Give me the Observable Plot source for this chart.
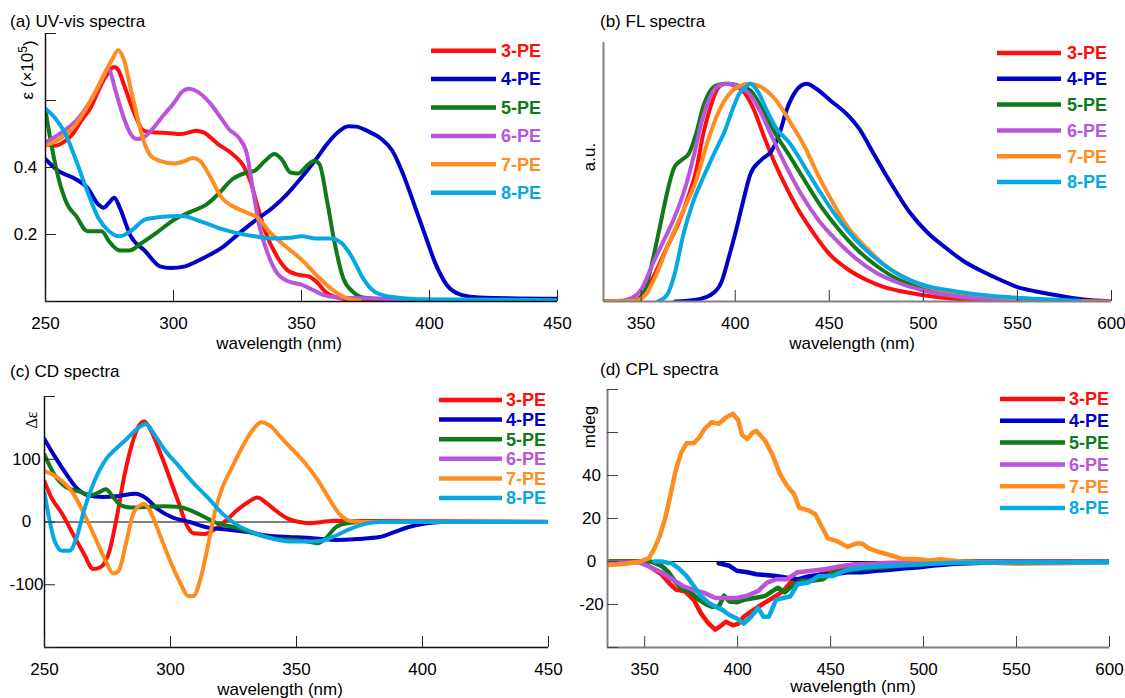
<!DOCTYPE html>
<html><head><meta charset="utf-8">
<script src="https://cdn.jsdelivr.net/npm/d3@7"></script>
<script src="https://cdn.jsdelivr.net/npm/@observablehq/plot@0.6"></script>
<style>
body{margin:0;background:#fff;}
#root{position:relative;width:1125px;height:698px;overflow:hidden;background:#fff;font-family:"Liberation Sans",Arial,sans-serif;}
#root svg{position:absolute;}
</style></head>
<body><div id="root"></div>
<script>
// ---------- series / style ----------
const series = ["3-PE","4-PE","5-PE","6-PE","7-PE","8-PE"];
const colors = ["#ff0d0d","#0000c8","#107a18","#b955da","#ff8c1f","#06a8e4"];

// ---------- ticks ----------
const uvXTicks = [250,300,350,400,450];
const uvYTicks = [0,0.2,0.4,0.6,0.8];
const uvYLabels = [0.2,0.4];
const flXTicks = [350,400,450,500,550,600];
const cdXTicks = [250,300,350,400,450];
const cdYTicks = [-200,-100,0,100,200];
const cdYLabels = [-100,0,100];
const cplXTicks = [350,400,450,500,550,600];
const cplYTicks = [-40,-20,0,20,40,60,80];
const cplYLabels = [-20,0,20,40];

// ---------- (a) UV-vis: [wavelength nm, epsilon x1e5] ----------
const uv3 = [[250,0.47],[253.5,0.465],[257,0.475],[260.6,0.50],[264,0.54],[267.7,0.58],[271,0.635],[273.4,0.67],[276.7,0.70],[278.5,0.69],[280.5,0.65],[284.8,0.56],[288.3,0.51],[291.8,0.505],[297.5,0.503],[303,0.50],[309,0.51],[311.7,0.505],[317.4,0.47],[323,0.44],[327.3,0.405],[330,0.36],[333,0.28],[335.8,0.21],[340,0.14],[344.3,0.095],[348.6,0.08],[352.8,0.075],[355.7,0.06],[360,0.025],[367,0.007],[374,0.002],[400,0.001],[450,0.001]];
const uv4 = [[250,0.425],[255,0.39],[260.6,0.37],[266.3,0.34],[270.6,0.29],[272.7,0.28],[274.8,0.295],[276.9,0.31],[279,0.28],[283.3,0.195],[289,0.15],[294.7,0.105],[298.9,0.10],[304.6,0.105],[311.7,0.13],[318.8,0.16],[325.9,0.205],[331.6,0.24],[338.7,0.28],[344.3,0.32],[350,0.37],[355.7,0.425],[360,0.47],[364.2,0.505],[368.4,0.523],[371.3,0.522],[375.5,0.51],[381.2,0.485],[385.5,0.45],[389.7,0.38],[394,0.29],[398.2,0.2],[402.5,0.11],[406.7,0.05],[412.4,0.02],[419.5,0.012],[450,0.008]];
const uv5 = [[250,0.57],[252,0.48],[255,0.37],[258.5,0.29],[262,0.255],[266.3,0.21],[269,0.21],[272,0.21],[274.8,0.18],[279,0.152],[282.6,0.152],[287.6,0.175],[293.3,0.205],[300.4,0.245],[307.4,0.27],[313,0.29],[317.4,0.32],[323,0.365],[328.7,0.385],[331.6,0.39],[335.8,0.42],[339.4,0.44],[342.2,0.425],[345.7,0.385],[348.6,0.382],[352.1,0.405],[355,0.42],[357,0.41],[360,0.30],[362.8,0.18],[366.3,0.07],[369.9,0.03],[374,0.012],[388,0.005],[450,0.002]];
const uv6 = [[250,0.475],[256.4,0.505],[262,0.54],[267.7,0.60],[272,0.66],[274.4,0.695],[277.7,0.62],[280.5,0.55],[283.3,0.50],[285.5,0.485],[288.3,0.49],[291.8,0.515],[296,0.555],[300.4,0.595],[303.2,0.625],[306,0.635],[309.6,0.625],[314.5,0.59],[318.8,0.545],[321.6,0.515],[325.9,0.485],[328.7,0.44],[330.9,0.34],[333.7,0.22],[336.5,0.15],[340,0.09],[344.3,0.062],[350,0.05],[354.3,0.035],[358.5,0.02],[364.2,0.012],[374,0.01],[382.6,0.008],[394,0.002]];
const uv7 = [[250,0.465],[256.4,0.49],[262,0.53],[267.7,0.60],[273.4,0.685],[276.2,0.725],[278.4,0.75],[280.5,0.725],[283.3,0.635],[286.2,0.54],[288.3,0.48],[291.1,0.435],[294.7,0.42],[300.4,0.412],[304.6,0.42],[307.4,0.428],[310.3,0.42],[314.5,0.37],[318.8,0.31],[323,0.285],[328.7,0.265],[333,0.25],[337.2,0.21],[342.9,0.17],[350,0.125],[355.7,0.08],[361.3,0.04],[367,0.012],[372.7,0.002]];
const uv8 = [[250,0.575],[253.5,0.55],[257.8,0.50],[262,0.42],[266.3,0.33],[270.6,0.25],[274.8,0.21],[279,0.195],[283.3,0.21],[289,0.245],[294.7,0.252],[303.2,0.255],[310.3,0.24],[317.4,0.22],[324.5,0.205],[331.6,0.195],[338.7,0.188],[345.7,0.19],[350,0.195],[355.7,0.188],[361.3,0.188],[365.6,0.175],[369.9,0.13],[374,0.07],[378.4,0.03],[384,0.015],[395.4,0.007],[450,0.004]];

// ---------- (b) FL: [wavelength nm, normalised intensity] ----------
const fl3 = [[330,0],[346.5,0.005],[352.3,0.046],[358,0.14],[363.8,0.25],[369.6,0.355],[375.4,0.49],[379.2,0.60],[383,0.77],[386.9,0.895],[390.8,0.98],[394.6,1.0],[400.4,0.99],[405.2,0.957],[410,0.88],[414.8,0.77],[419.6,0.665],[425.4,0.555],[433,0.43],[440.8,0.325],[450.4,0.215],[460,0.147],[469.6,0.10],[479.2,0.066],[488.8,0.046],[498.5,0.031],[517.7,0.012],[536.9,0.003],[556,0]];
const fl4 = [[368,0],[379.2,0.008],[386.9,0.03],[392.7,0.09],[396.5,0.2],[400.4,0.325],[404.2,0.46],[408.1,0.586],[413.8,0.65],[419.6,0.695],[423.5,0.77],[427.3,0.88],[432.1,0.965],[437.9,1.0],[442.7,0.98],[450.4,0.925],[460,0.855],[465.8,0.795],[473.5,0.68],[483,0.54],[492.7,0.41],[502.3,0.316],[511.9,0.247],[521.5,0.185],[531.2,0.139],[540.8,0.10],[550.4,0.065],[560,0.046],[571.5,0.028],[583,0.012],[594.6,0.003],[600,0]];
const fl5 = [[330,0],[346.5,0.003],[352.3,0.06],[356,0.185],[361,0.386],[363.8,0.50],[367.7,0.617],[371.5,0.65],[375.4,0.68],[379.2,0.77],[383,0.895],[386.9,0.97],[390.8,0.995],[396.5,1.0],[402.3,0.99],[408,0.97],[413.8,0.895],[421.5,0.77],[429.2,0.665],[437,0.555],[444.6,0.45],[454.2,0.34],[463.8,0.247],[475.4,0.162],[487,0.10],[498.5,0.065],[517.7,0.031],[537,0.012],[556,0.005],[575,0.002],[590,0]];
const fl6 = [[335,0],[338.8,0.003],[344.6,0.015],[350.4,0.06],[356,0.17],[362,0.28],[367.7,0.386],[373.5,0.525],[378.3,0.68],[382,0.82],[386,0.926],[390.8,0.99],[396.5,1.0],[402.3,0.985],[408,0.95],[413.8,0.865],[419.6,0.756],[427.3,0.617],[435,0.494],[444.6,0.37],[454.2,0.278],[463.8,0.2],[475.4,0.13],[487,0.085],[498.5,0.054],[517.7,0.023],[537,0.01],[556,0.003],[575,0]];
const fl7 = [[330,0],[346.5,0.003],[352.3,0.03],[358,0.123],[363.8,0.247],[371.5,0.40],[379.2,0.555],[385,0.725],[390.8,0.864],[396.5,0.95],[402.3,0.99],[408,1.0],[413.8,0.985],[421.5,0.926],[429.2,0.825],[437,0.71],[444.6,0.571],[452.3,0.448],[460,0.34],[469.6,0.247],[479.2,0.17],[488.8,0.116],[498.5,0.077],[517.7,0.042],[537,0.023],[556,0.011],[575,0.003],[600,0]];
const fl8 = [[359,0],[363.8,0.03],[367.7,0.123],[372.5,0.31],[377.3,0.45],[383,0.57],[388.8,0.68],[394.6,0.787],[398.5,0.88],[402.3,0.957],[406,0.99],[408,1.0],[412,0.965],[416.7,0.88],[421.5,0.80],[429.2,0.725],[437,0.617],[444.6,0.51],[454.2,0.386],[463.8,0.285],[475.4,0.193],[487,0.123],[498.5,0.08],[517.7,0.046],[537,0.025],[556,0.014],[575,0.006],[583,0.003]];

// ---------- (c) CD: [wavelength nm, delta epsilon] ----------
const cd3 = [[250,64.5],[252.6,40],[257,13],[261.3,-19],[265.7,-51],[269.3,-75],[272.2,-72],[275.8,-46],[278.7,8],[281.6,72],[284.5,121],[287.4,153],[289.6,160],[291.7,150],[294.6,124],[297.5,94],[300.4,62],[303.3,30],[306.2,-3],[309.1,-18],[313.5,-19],[317.8,-11],[322.2,3],[326.5,19],[330.9,32],[334.5,39],[338.1,30],[342.5,16],[346.8,5],[351.2,0],[355.5,-2],[359.9,0],[365.7,2],[377,1.5],[406,1],[450,0.5]];
const cd4 = [[250,132],[254,105],[258.4,78],[262.8,54],[267,43],[273,40],[278.7,41],[286,45],[290.3,38],[294.6,21.5],[300.4,8],[307.7,0],[315,-9],[322.2,-12],[330.9,-16],[338.1,-21.5],[346.8,-24],[354,-25],[359.9,-27],[365.7,-28.5],[374.3,-27],[383,-24],[388.8,-16],[394.6,-8],[400.4,-3],[407.7,0],[450,0]];
const cd5 = [[250,107],[254,75],[258.4,56],[264.2,48],[268.6,43],[271.4,47],[274.3,52],[277.2,40],[280.1,27],[284.5,23],[290.3,24],[297.5,25],[303.3,24],[307.7,19],[313.5,8],[319.3,-3],[325,-8],[333.8,-19],[342.5,-27],[349.7,-28.5],[355.5,-32],[358.4,-34],[361.3,-27],[365.7,-8],[370,-2],[377.2,0],[380,0]];
const cd6 = []; // 6-PE trace not visible in the CD panel
const cd7 = [[250,81],[255.5,70],[261.3,46],[265.7,13],[270,-24],[274.3,-62],[277.2,-82],[279.4,-78],[282.3,-35],[285.2,13],[288.1,27],[289.6,28.5],[291.7,19],[296.1,-24],[300.4,-67],[304.1,-99],[307,-118],[309.1,-118],[312,-89],[315,-35],[317.8,19],[320.7,56],[324.3,86],[328,116],[332.3,145],[336,159],[339.6,153],[344,134],[348.3,116],[354,91],[358.4,67],[362.8,38],[367,13],[371.4,1.6],[377,0],[450,0]];
const cd8 = [[250,46],[252,3],[254,-30],[257,-46],[259.9,-46],[262.8,-24],[265.7,19],[270,67],[274.3,99.5],[278.7,118],[283,134],[287.4,150.5],[290.3,156],[293.2,142],[297.5,116],[303.3,89],[309.1,62],[315,38],[320.7,13],[326.5,-5],[333.8,-18],[341,-27],[348.3,-31],[355.5,-31],[359.9,-30],[365.7,-21.5],[371.4,-11],[377.2,-3],[383,0],[450,0]];

// ---------- (d) CPL: [wavelength nm, mdeg] ----------
const cpl3 = [[330,0],[347.5,0],[353.3,-2.7],[359,-5.9],[362.9,-9.8],[366.7,-13],[371.6,-13.8],[376.4,-17.8],[380.2,-24],[384.1,-28.6],[388,-31.7],[390.8,-30],[393.7,-28],[397.5,-29.7],[400.4,-28.9],[403.3,-25.7],[407.2,-23.3],[413,-20],[418.7,-17],[424.5,-13.8],[428.3,-9.8],[434.1,-8.3],[439.9,-7],[449.5,-5],[459,-3.2],[478,-1.6],[497.6,-0.5],[520,0],[600,0]];
const cpl4 = [[389.8,-0.8],[395.6,-2],[399.5,-4.3],[405.2,-5],[410,-5.9],[414.9,-6.3],[420.6,-6.7],[426.4,-7.5],[432.2,-8.3],[438,-7],[443.7,-6.3],[451.4,-5.9],[459.1,-5],[466.8,-5],[474.5,-4.3],[482.2,-3.8],[489.9,-3.2],[497.6,-2.7],[505.3,-1.9],[516.9,-1],[536,-0.5],[600,0]];
const cpl5 = [[330,0],[353.3,0],[359,-2],[362.9,-5],[366.7,-9.8],[370.6,-13],[374.4,-14],[379.3,-17.8],[383.1,-20],[386,-21],[389.8,-21],[392.7,-15.9],[395.6,-18.6],[399.5,-19],[403.3,-17.8],[409.1,-17],[414.9,-16],[418.7,-13.8],[421.6,-12.2],[425.4,-14.3],[429.3,-11.4],[434.1,-9],[439.9,-9],[445.7,-8.3],[451.4,-5],[459.1,-4.3],[468.7,-3.2],[478.4,-2.7],[488,-1.9],[497.6,-1.6],[507.2,-0.6],[530,0],[600,0]];
const cpl6 = [[330,-0.5],[347.5,-0.5],[353.3,-2.7],[359,-5],[364.8,-8.3],[370.6,-11.4],[376.4,-13.3],[382.1,-14.6],[388,-17],[393.7,-17],[399.5,-17],[405.2,-15.9],[411,-13.8],[415.8,-9.8],[420.6,-8.3],[426.4,-8.3],[432.2,-5],[439.9,-4.3],[447.6,-3.5],[455.3,-2.2],[463,-1.3],[472.6,-1],[482.2,-0.6],[500,-0.3],[600,0]];
const cpl7 = [[330,-1.6],[339.8,-1],[347.5,0],[352.3,1.6],[355.2,6],[358,11.6],[361,20],[363.9,31],[366.7,42.5],[369.6,50.5],[372.5,55],[376.4,55],[379.3,57.6],[382.1,61.6],[386,64.8],[389.8,64],[393.7,67],[397.5,68.7],[400.4,65.6],[402.3,59],[405.2,57],[408.1,60],[410,60.8],[414.9,56],[418.7,49.7],[422.6,41],[426.4,35.4],[430.3,31.4],[433.1,25],[438,23.8],[441.8,22],[444.7,17],[448.5,10.8],[453.3,9.5],[459.1,6.8],[463.9,8.4],[466.8,8.4],[470.7,6],[476.4,4.4],[482.2,2.9],[488,1.3],[497.6,1],[503.4,0.5],[509.2,1],[515,0.5],[520.7,0],[550,-1],[600,-0.5]];
const cpl8 = [[355.2,0],[359,0],[364.8,-1],[368.7,-3.5],[372.5,-6.7],[376.4,-11.4],[380.2,-16],[384.1,-19],[388,-21],[391.8,-22.5],[395.6,-24.9],[399.5,-26.5],[403.3,-28.9],[407.2,-25.7],[411,-21.7],[413.9,-25.7],[416.8,-25.7],[420.6,-17.8],[424.5,-17],[428.3,-16.2],[432.2,-10.6],[438,-9.8],[443.7,-6.7],[451.4,-6.7],[459.1,-3.8],[468.7,-2.7],[478.4,-2.2],[497.6,-1.3],[516.9,-0.6],[600,-0.3]];

// ---------- helpers ----------
function rows(list) {
  return list.flatMap((arr, i) => arr.map(([wl, v]) => ({wl, v, s: series[i]})));
}

const root = document.getElementById("root");
const FONT = "'Liberation Sans', Arial, sans-serif";

function panel(c) {
  const marks = [];
  if (c.zero) marks.push(Plot.ruleY([0], {stroke: "#000", strokeWidth: 1.2}));
  marks.push(Plot.line(c.data, {x: "wl", y: "v", z: "s", stroke: "s", strokeWidth: c.sw || 4, curve: c.curve, clip: true, strokeLinejoin: "round"}));
  // axis lines
  marks.push(Plot.ruleX([c.xDomain[0]], {stroke: c.axisColor, strokeWidth: c.axisWidth}));
  marks.push(Plot.ruleY([c.yDomain[0]], {stroke: c.axisColor, strokeWidth: c.axisWidth}));
  // inward ticks
  marks.push(Plot.axisX({ticks: c.xTicks, tickSize: 11, dy: -11, tickFormat: () => "", stroke: c.tickColor, label: null}));
  marks.push(Plot.axisX({ticks: c.xTicks, tickSize: 0, tickPadding: 15, tickFormat: d => String(d), label: null, fill: "#000"}));
  if (c.yTicks) marks.push(Plot.axisY({ticks: c.yTicks, tickSize: 11, dx: 11, tickFormat: () => "", stroke: c.tickColor, label: null}));
  if (c.yLabels) marks.push(Plot.axisY({ticks: c.yLabels, tickSize: 0, tickPadding: c.yPad, textAnchor: "middle", tickFormat: d => String(d), label: null, fill: "#000"}));
  const svg = Plot.plot({
    width: c.width, height: c.height,
    marginLeft: c.mL, marginRight: c.mR, marginTop: c.mT, marginBottom: c.mB,
    x: {domain: c.xDomain, label: null},
    y: c.yTicks ? {domain: c.yDomain, label: null} : {domain: c.yDomain, label: null, axis: null},
    color: {domain: series, range: colors},
    style: {fontFamily: FONT, fontSize: "17px", color: "#000", background: "transparent", overflow: "visible"},
    marks
  });
  svg.style.left = c.left + "px";
  svg.style.top = c.top + "px";
  root.appendChild(svg);
}

panel({left: 0, top: 0, width: 565, height: 335, mL: 45, mR: 8, mT: 33, mB: 34,
  xDomain: [250, 450], yDomain: [0, 0.8], xTicks: uvXTicks, yTicks: uvYTicks, yLabels: uvYLabels, yPad: 20,
  axisColor: "#111", axisWidth: 1.5, tickColor: "#222", curve: "monotone-x",
  data: rows([uv3, uv4, uv5, uv6, uv7, uv8])});

panel({left: 560, top: 0, width: 561, height: 335, mL: 43, mR: 10, mT: 42, mB: 34,
  xDomain: [330, 600], yDomain: [0, 1.19], xTicks: flXTicks,
  axisColor: "#808080", axisWidth: 2, tickColor: "#333", curve: "monotone-x",
  data: rows([fl3, fl4, fl5, fl6, fl7, fl8])});

panel({left: 0, top: 350, width: 558, height: 331, mL: 44, mR: 10, mT: 46, mB: 34,
  xDomain: [250, 450], yDomain: [-200, 200], xTicks: cdXTicks, yTicks: cdYTicks, yLabels: cdYLabels, yPad: 18,
  axisColor: "#111", axisWidth: 1.5, tickColor: "#222", curve: "monotone-x", zero: true,
  data: rows([cd3, cd4, cd5, cd6, cd7, cd8])});

panel({left: 560, top: 350, width: 559, height: 331, mL: 47, mR: 10, mT: 39, mB: 34,
  xDomain: [330, 600], yDomain: [-40, 80], xTicks: cplXTicks, yTicks: cplYTicks, yLabels: cplYLabels, yPad: 16,
  axisColor: "#808080", axisWidth: 2, tickColor: "#444", curve: "linear", zero: true, sw: 4.5,
  data: rows([cpl3, cpl4, cpl5, cpl6, cpl7, cpl8])});

// ---------- overlay: titles, axis labels, legends ----------
const NS = "http://www.w3.org/2000/svg";
const ov = document.createElementNS(NS, "svg");
ov.setAttribute("width", 1125); ov.setAttribute("height", 698);
ov.style.left = "0px"; ov.style.top = "0px"; ov.style.pointerEvents = "none";
ov.style.fontFamily = FONT;
root.appendChild(ov);

function txt(x, y, s, opts = {}) {
  const t = document.createElementNS(NS, "text");
  t.setAttribute("x", x); t.setAttribute("y", y);
  t.setAttribute("font-size", opts.size || 17);
  t.setAttribute("fill", opts.fill || "#000");
  if (opts.anchor) t.setAttribute("text-anchor", opts.anchor);
  if (opts.weight) t.setAttribute("font-weight", opts.weight);
  if (opts.family) t.setAttribute("font-family", opts.family);
  if (opts.dy) t.setAttribute("dy", opts.dy);
  if (opts.rotate) t.setAttribute("transform", `rotate(-90 ${x} ${y})`);
  t.textContent = s;
  ov.appendChild(t);
  return t;
}

const titles = [["(a) UV-vis spectra", 10, 27], ["(b) FL spectra", 600, 27], ["(c) CD spectra", 10, 377], ["(d) CPL spectra", 600, 375]];
titles.forEach(([s, x, y]) => txt(x, y, s));

const xLabel = "wavelength (nm)";
[[279, 349], [852, 349], [280, 695], [853, 692]].forEach(([x, y]) => txt(x, y, xLabel, {anchor: "middle"}));

// y labels
const eps = txt(27, 70, "ε (×10", {anchor: "middle", rotate: true, dy: "0.35em", size: 17});
const sup = document.createElementNS(NS, "tspan");
sup.setAttribute("dy", "-0.5em"); sup.setAttribute("font-size", 12); sup.textContent = "5";
const close = document.createElementNS(NS, "tspan");
close.setAttribute("dy", "0.5em"); close.textContent = ")";
eps.appendChild(sup); eps.appendChild(close);
txt(589, 157, "a.u.", {anchor: "middle", rotate: true, dy: "0.35em", size: 17});
txt(31, 420, "Δε", {anchor: "middle", rotate: true, dy: "0.35em", size: 16, family: "'Liberation Serif', 'DejaVu Serif', serif"});
txt(589, 427, "mdeg", {anchor: "middle", rotate: true, dy: "0.35em", size: 17});

// legends
const legends = [
  {x1: 431, x2: 496, tx: 501, y0: 50.7, step: 28.4},
  {x1: 997, x2: 1061, tx: 1067, y0: 53, step: 25.8},
  {x1: 439, x2: 502, tx: 506, y0: 400, step: 19.6},
  {x1: 1000, x2: 1065, tx: 1069, y0: 399, step: 21.8}
];
legends.forEach(L => {
  series.forEach((s, i) => {
    const y = L.y0 + i * L.step;
    const ln = document.createElementNS(NS, "line");
    ln.setAttribute("x1", L.x1); ln.setAttribute("x2", L.x2);
    ln.setAttribute("y1", y); ln.setAttribute("y2", y);
    ln.setAttribute("stroke", colors[i]); ln.setAttribute("stroke-width", 4.5);
    ov.appendChild(ln);
    txt(L.tx, y, s, {fill: colors[i], weight: "bold", size: 18, dy: "0.35em"});
  });
});
</script>
</body></html>
